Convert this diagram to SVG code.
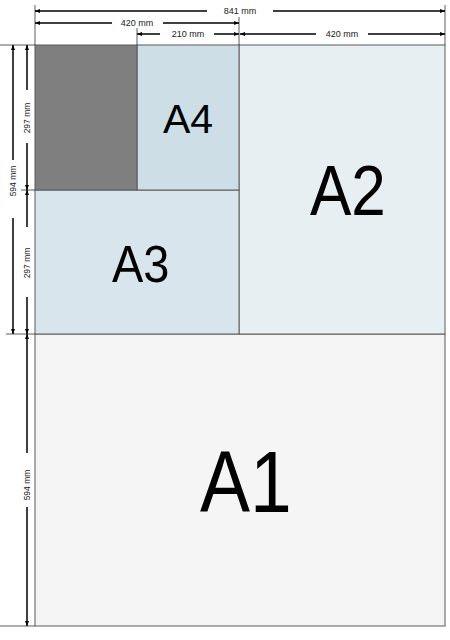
<svg xmlns="http://www.w3.org/2000/svg" width="450" height="640" viewBox="0 0 450 640">
<style>
.sheet{stroke:#5a5a5a;stroke-width:1}
.dim{stroke:#000;stroke-width:1.5;fill:none}
.ext{stroke:#333;stroke-width:0.8;fill:none}
.dt{font-family:"Liberation Sans",Arial,sans-serif;font-size:9px;fill:#222;text-anchor:middle;dominant-baseline:central}
.vt{font-size:8.5px}
.big{font-family:"Liberation Sans",Arial,sans-serif;fill:#000}
</style>
<defs>
<marker id="ah" viewBox="0 0 10 10" refX="10" refY="5" markerWidth="5" markerHeight="5" orient="auto-start-reverse" markerUnits="userSpaceOnUse">
<path d="M0,1 L10,5 L0,9 z" fill="#000"/>
</marker>
</defs>
<rect width="450" height="640" fill="#fff"/>
<g id="A1"><rect class="sheet" x="35" y="334" width="410" height="292" fill="#f5f5f5"/>
<text class="big" font-size="75" transform="translate(200,512) scale(1,1.16)">A1</text></g>
<g id="A2"><rect class="sheet" x="239" y="45" width="206" height="289" fill="#e8eff3"/>
<text class="big" font-size="62" transform="translate(310,215) scale(1,1.13)">A2</text></g>
<g id="A3"><rect class="sheet" x="35" y="190" width="204" height="144" fill="#d9e5ec"/>
<text class="big" font-size="47" transform="translate(112,282) scale(1,1.12)">A3</text></g>
<g id="A4"><rect class="sheet" x="137" y="45" width="102" height="145" fill="#cedee7"/>
<text class="big" x="163" y="133" font-size="41">A4</text></g>
<g id="A5"><rect class="sheet" x="35" y="45" width="102" height="145" fill="#7f7f7f"/></g>
<g id="connectors">
<path class="ext" d="M35,5V45 M445,5V45 M239,17V45 M137,28V45 M0,45H35 M6,334H35 M21,190H35 M0,626H35"/>
<path class="dim" d="M35,11H207" marker-start="url(#ah)"/>
<path class="dim" d="M273,11H445" marker-end="url(#ah)"/>
<path class="dim" d="M35,23H112" marker-start="url(#ah)"/>
<path class="dim" d="M163,23H239" marker-end="url(#ah)"/>
<path class="dim" d="M137,34H160" marker-start="url(#ah)"/>
<path class="dim" d="M214,34H239" marker-end="url(#ah)"/>
<path class="dim" d="M240,34H316" marker-start="url(#ah)"/>
<path class="dim" d="M368,34H445" marker-end="url(#ah)"/>
<path class="dim" d="M13,45V160" marker-start="url(#ah)"/>
<path class="dim" d="M13,218V334" marker-end="url(#ah)"/>
<path class="dim" d="M27,45V90" marker-start="url(#ah)"/>
<path class="dim" d="M27,143V190" marker-end="url(#ah)"/>
<path class="dim" d="M27,190V227" marker-start="url(#ah)"/>
<path class="dim" d="M27,297V334" marker-end="url(#ah)"/>
<path class="dim" d="M27,334V453" marker-start="url(#ah)"/>
<path class="dim" d="M27,507V626" marker-end="url(#ah)"/>
</g>
<g id="labels">
<text class="dt" x="240" y="11">841 mm</text>
<text class="dt" x="137" y="23">420 mm</text>
<text class="dt" x="188" y="34">210 mm</text>
<text class="dt" x="342" y="34">420 mm</text>
<text class="dt vt" transform="translate(13,181) rotate(-90)">594 mm</text>
<text class="dt vt" transform="translate(27,118) rotate(-90)">297 mm</text>
<text class="dt vt" transform="translate(27,263) rotate(-90)">297 mm</text>
<text class="dt vt" transform="translate(27,485) rotate(-90)">594 mm</text>
</g>
</svg>
